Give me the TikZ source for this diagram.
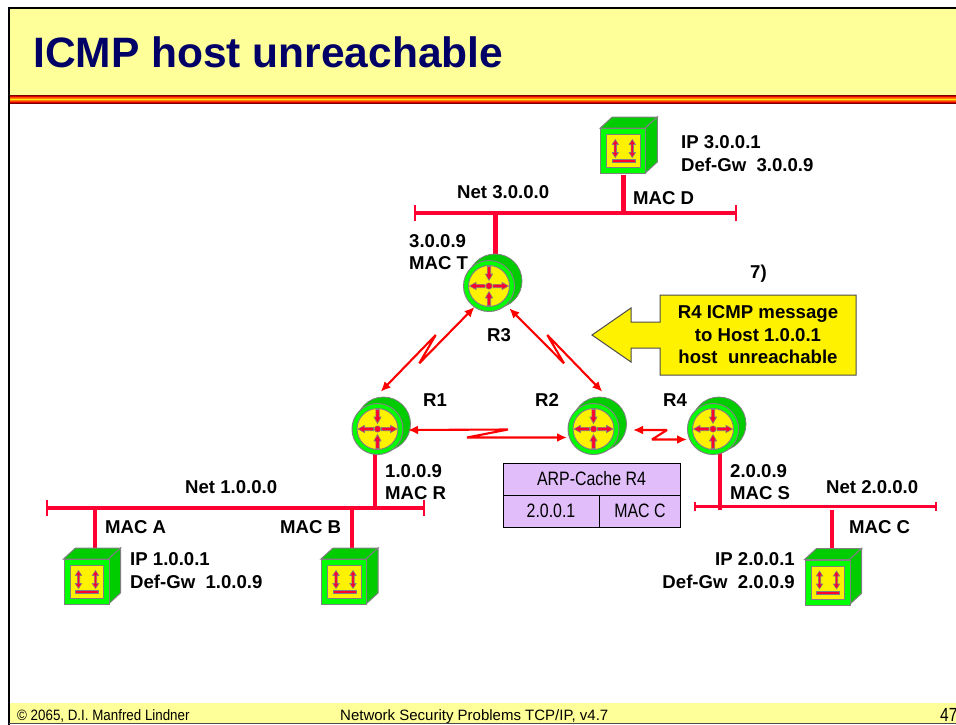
\documentclass[tikz,border=0pt]{standalone}
\usepackage{fontspec}
\setmainfont{Liberation Sans}
\newfontfamily\narrowfont[FakeStretch=0.82]{Liberation Sans}
\newfontfamily\footfont[FakeStretch=0.89]{Liberation Sans}
\usepackage{tikz}
\usetikzlibrary{arrows.meta}
\definecolor{slideyellow}{HTML}{FFFF99}
\definecolor{titleblue}{HTML}{000066}
\definecolor{netred}{HTML}{FF0033}
\definecolor{boxgreen}{HTML}{00FF00}
\definecolor{darkgreen}{HTML}{00CC00}
\definecolor{arplilac}{HTML}{E1BEFA}
\tikzset{
	lbl/.style={font=\fontsize{18.6}{22.5}\selectfont\bfseries,align=left,inner sep=0pt},
	net/.style={draw=netred,line width=3.2pt},
	stem/.style={draw=netred,line width=4.2pt},
	link/.style={draw=red,line width=2.1pt,line join=bevel,{Latex[length=10pt,width=9pt]}-{Latex[length=10pt,width=9pt]}},
	arp/.style={font=\narrowfont\fontsize{19.4}{22}\selectfont,inner sep=0pt},
	dblarrow/.style={fill=netred,draw=gray,line width=.6pt},
	host/.pic={
		\fill[darkgreen,draw=gray,line width=1pt] (-23,-23) -- (-11,-34) -- (34,-34) -- (22,-23) -- cycle;
		\fill[darkgreen,draw=gray,line width=1pt] (22,-23) -- (34,-34) -- (34,11) -- (22,22) -- cycle;
		\node[draw=gray,fill=boxgreen,line width=1pt,minimum size=45pt,inner sep=0pt] (body) at (0,0) {};
		\fill[yellow,draw=gray,line width=1pt] (-16.5,-16.5) rectangle (17,16.5);
		\foreach \x in {-8,9} {
			\begin{scope}[shift={(\x,-2.5)}]
				\filldraw[dblarrow] (0,-9) -- (3.2,-4) -- (1.2,-4) -- (1.2,4) -- (3.2,4) -- (0,9) -- (-3.2,4) -- (-1.2,4) -- (-1.2,-4) -- (-3.2,-4) -- cycle;
			\end{scope}
		}
		\filldraw[fill=netred,draw=gray,line width=.5pt] (-11,8.5) rectangle (12,11.5);
	},
	router/.pic={
		\filldraw[fill=darkgreen,draw=gray,line width=.8pt] (6,-5) circle (27);
		\node[circle,draw=gray,fill=boxgreen,line width=1pt,minimum size=51pt,inner sep=0pt] (body) at (0,0) {};
		\filldraw[fill=yellow,draw=gray,line width=1pt] (0,0) circle (20.5);
		\foreach \a in {0,180} {
			\begin{scope}[rotate=\a]
				\filldraw[dblarrow] (4,-1.7) -- (13,-1.7) -- (13,-3.6) -- (19.5,0) -- (13,3.6) -- (13,1.7) -- (4,1.7) -- cycle;
			\end{scope}
		}
		\foreach \a in {90,270} {
			\begin{scope}[rotate=\a]
				\filldraw[dblarrow] (19.5,-1.7) -- (12,-1.7) -- (12,-3.6) -- (5.5,0) -- (12,3.6) -- (12,1.7) -- (19.5,1.7) -- cycle;
			\end{scope}
		}
		\filldraw[fill=netred,draw=gray,line width=.5pt] (0,0) circle (3.2);
	}
}
\begin{document}
\begin{tikzpicture}[x=1pt,y=-1pt]
	\useasboundingbox (0,0) rectangle (956,725);
	% slide
	\fill[white] (0,0) rectangle (956,725);
	\fill[slideyellow] (9,8) rectangle (956,95);
	\fill[slideyellow] (9,702.5) rectangle (956,723);
	\foreach \c [count=\i from 0] in {red!50!black,red!85!black,orange!60!red,orange,yellow!90!orange,yellow!90!orange,orange,orange!50!red,red!85!black,red!50!black} {
		\fill[\c] (9,95+\i*0.9) rectangle (956,95.9+\i*0.9);
	}
	\draw[black,line width=2.5pt] (9,725) -- (9,8) -- (956,8);
	\draw[black!70,line width=1pt] (9,723.5) -- (956,723.5);
	\node[font=\fontsize{42.5}{50}\selectfont\bfseries,text=titleblue,anchor=base west,inner sep=0pt] (title) at (33,68) {ICMP host unreachable};
	\node[font=\footfont\fontsize{15}{16}\selectfont,anchor=base west,inner sep=0pt] (copy) at (17,720) {© 2065, D.I. Manfred Lindner};
	\node[font=\fontsize{15}{16}\selectfont,anchor=base west,inner sep=0pt] (topic) at (340,720) {Network Security Problems TCP/IP, v4.7};
	\node[font=\narrowfont\fontsize{19}{16}\selectfont,anchor=base west,inner sep=0pt] (page) at (940,721) {47};

	% networks
	\coordinate (n3w) at (415,213);
	\coordinate (n3e) at (736,213);
	\coordinate (n1w) at (47,508);
	\coordinate (n1e) at (424,508);
	\coordinate (n2w) at (695,506.5);
	\coordinate (n2e) at (936,506.5);
	\draw[net] (n3w) -- (n3e);
	\draw[net] (n1w) -- (n1e);
	\draw[net,line width=2.6pt] (n2w) -- (n2e);
	\foreach \n in {n3w,n3e,n1w,n1e} {
		\draw[draw=netred,line width=2.6pt] ([yshift=-8pt]\n) -- ([yshift=8pt]\n);
	}
	\foreach \n in {n2w,n2e} {
		\draw[draw=netred,line width=2.6pt] ([yshift=-4.5pt]\n) -- ([yshift=4.5pt]\n);
	}

	% stems
	\coordinate (s3) at (495.5,213);
	\coordinate (s3r) at (495.5,256);
	\coordinate (sd) at (623.5,213);
	\coordinate (sdh) at (623.5,175);
	\coordinate (s1) at (375,510);
	\coordinate (s1r) at (375,450);
	\coordinate (s4) at (720,510);
	\coordinate (s4r) at (720,450);
	\coordinate (sa) at (95,508);
	\coordinate (sah) at (95,550);
	\coordinate (sb) at (352,508);
	\coordinate (sbh) at (352,550);
	\coordinate (sc) at (832,510);
	\coordinate (sch) at (832,550);
	\foreach \a/\b in {s3/s3r,sd/sdh,s1/s1r,s4/s4r,sa/sah,sb/sbh,sc/sch} {
		\draw[stem] (\a) -- (\b);
	}

	% routers and hosts
	\path (489,286) pic (r3) {router};
	\path (377.5,429) pic (r1) {router};
	\path (593.5,429) pic (r2) {router};
	\path (713,429) pic (r4) {router};
	\path (623.3,151) pic (hd) {host};
	\path (86.5,582) pic (ha) {host};
	\path (344,582) pic (hb) {host};
	\path (827.5,582.5) pic (hc) {host};

	% links
	\coordinate (l31a) at (474.5,307);
	\coordinate (l31b) at (419.3,363.3);
	\coordinate (l31c) at (435.7,335);
	\coordinate (l31d) at (380.7,391.7);
	\draw[link] (l31a) -- (l31b) -- (l31c) -- (l31d);
	\coordinate (l32a) at (509.3,308.3);
	\coordinate (l32b) at (564,363.3);
	\coordinate (l32c) at (547.3,335);
	\coordinate (l32d) at (602.3,391.7);
	\draw[link] (l32a) -- (l32b) -- (l32c) -- (l32d);
	\coordinate (l12a) at (408,430);
	\coordinate (l12b) at (508,429.5);
	\coordinate (l12c) at (467,437.5);
	\coordinate (l12d) at (567,437.5);
	\draw[link] (l12a) -- (l12b) -- (l12c) -- (l12d);
	\coordinate (l24a) at (633,430);
	\coordinate (l24b) at (667,430);
	\coordinate (l24c) at (652,439.5);
	\coordinate (l24d) at (687,439.5);
	\draw[link] (l24a) -- (l24b) -- (l24c) -- (l24d);

	% labels
	\node[lbl,anchor=base west] (netd) at (457,198) {Net 3.0.0.0};
	\node[lbl,anchor=base west] (macd) at (633,204) {MAC D};
	\node[lbl,anchor=north west] (ipd) at (681,135.5) {IP 3.0.0.1\\Def-Gw\ \ 3.0.0.9};
	\node[lbl,anchor=north west] (ipt) at (409,234) {3.0.0.9\\MAC T};
	\node[lbl,anchor=base west] (r3l) at (487,341) {R3};
	\node[lbl,anchor=base west] (r1l) at (423,406) {R1};
	\node[lbl,anchor=base west] (r2l) at (535,406) {R2};
	\node[lbl,anchor=base west] (r4l) at (663,406) {R4};
	\node[lbl,anchor=north west] (ipr) at (385,464) {1.0.0.9\\MAC R};
	\node[lbl,anchor=north west] (ips) at (730,464) {2.0.0.9\\MAC S};
	\node[lbl,anchor=base west] (neta) at (185,493) {Net 1.0.0.0};
	\node[lbl,anchor=base west] (netc) at (826,493) {Net 2.0.0.0};
	\node[lbl,anchor=base west] (maca) at (105,533) {MAC A};
	\node[lbl,anchor=base west] (macb) at (280,533) {MAC B};
	\node[lbl,anchor=base west] (macc) at (849,533) {MAC C};
	\node[lbl,anchor=north west] (ipa) at (130,552.5) {IP 1.0.0.1\\Def-Gw\ \ 1.0.0.9};
	\node[lbl,anchor=north east,align=right] (ipc) at (795,552.5) {IP 2.0.0.1\\Def-Gw\ \ 2.0.0.9};
	\node[lbl,anchor=base west] (stepno) at (750,278) {7)};

	% callout
	\filldraw[fill=yellow,draw=black!70,line width=1pt] (660,295) -- (856,295) -- (856,375) -- (660,375) -- (660,348) -- (631,348) -- (631,362) -- (592,335) -- (631,308) -- (631,322) -- (660,322) -- cycle;
	\node[lbl,align=center] (msg) at (758,335) {R4 ICMP message\\to Host 1.0.0.1\\host\ \ unreachable};

	% arp table
	\filldraw[fill=arplilac,draw=black,line width=1pt] (503.5,463) rectangle (680,527);
	\draw[line width=1pt] (503.5,495) -- (680,495);
	\draw[line width=1pt] (599.5,495) -- (599.5,527);
	\node[arp] (arph) at (591.5,479) {ARP-Cache R4};
	\node[arp] (arpi) at (551,511) {2.0.0.1};
	\node[arp] (arpm) at (640,511) {MAC C};
\end{tikzpicture}
\end{document}
